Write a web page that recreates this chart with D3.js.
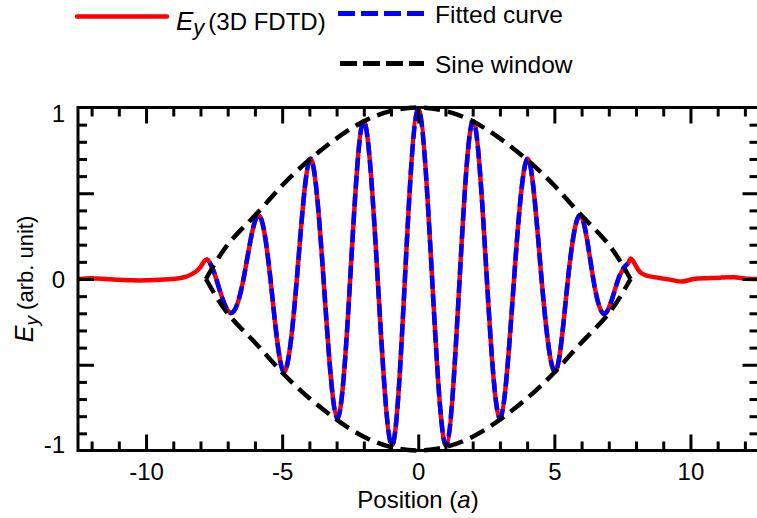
<!DOCTYPE html>
<html>
<head>
<meta charset="utf-8">
<script src="https://cdn.jsdelivr.net/npm/d3@7/dist/d3.min.js"></script>
<style>
  html, body { margin: 0; padding: 0; background: #fff; }
  svg { display: block; font-family: "Liberation Sans", Arial, Helvetica, sans-serif; }
</style>
</head>
<body>
<svg id="chart" width="757" height="518"></svg>
<script>
// ---------------- data ----------------
// Fitted curve (blue dashed): extrema and zero crossings
const fittedX = [-7.66, -7.42, -6.93, -6.42, -5.90, -5.43, -4.95, -4.46, -3.97, -3.48, -2.98, -2.50, -2.01, -1.49, -0.97, -0.49, 0.00, 0.51, 1.02, 1.52, 2.02, 2.52, 3.01, 3.52, 4.03, 4.53, 5.04, 5.50, 5.97, 6.43, 6.88, 7.35, 7.70];
const fittedY = [0.095, 0.0, -0.195, 0.0, 0.37, 0.0, -0.54, 0.0, 0.70, 0.0, -0.81, 0.0, 0.92, 0.0, -0.97, 0.0, 0.99, 0.0, -0.97, 0.0, 0.92, 0.0, -0.81, 0.0, 0.70, 0.0, -0.54, 0.0, 0.37, 0.0, -0.20, 0.0, 0.09];

// 3D FDTD field (red): tails outside the window (inside it follows the fitted curve)
const fdtdLeftX = [-12.5, -12.0, -11.5, -11.0, -10.5, -10.0, -9.5, -9.0, -8.6, -8.3, -8.05, -7.88, -7.76];
const fdtdLeftY = [0.0, 0.004, 0.0, -0.004, -0.008, -0.008, -0.004, 0.0, 0.01, 0.03, 0.06, 0.10, 0.115];
const fdtdRightX = [7.80, 7.95, 8.15, 8.5, 8.9, 9.3, 9.7, 10.1, 10.6, 11.1, 11.6, 12.0, 12.5];
const fdtdRightY = [0.12, 0.09, 0.04, 0.015, 0.005, -0.005, -0.015, 0.0, 0.005, 0.008, 0.01, 0.003, 0.0];

// Sine window envelope (black dashed)
const windowX = [-7.8, -7, -6, -5, -4, -3, -2, -1, 0, 1, 2, 3, 4, 5, 6, 7, 7.8];
const windowY = [0, 0.2, 0.37, 0.545, 0.695, 0.82, 0.92, 0.98, 1, 0.98, 0.92, 0.82, 0.695, 0.545, 0.37, 0.2, 0];

// ticks
const xMajorTicks = [-10, -5, 0, 5, 10];
const xMinorTicks = [-12,-11,-9,-8,-7,-6,-4,-3,-2,-1,1,2,3,4,6,7,8,9,11,12];
const yLabelTicks = [-1, 0, 1];
const yMajorTicks = [-0.5, 0, 0.5];
const yMinorTicks = [-0.9,-0.8,-0.7,-0.6,-0.4,-0.3,-0.2,-0.1,0.1,0.2,0.3,0.4,0.6,0.7,0.8,0.9];

// ---------------- layout ----------------
const svg = d3.select("#chart");
const L = 78, R = 758.5, T = 107.5, B = 450.5;
const x = d3.scaleLinear().domain([-12.5, 12.5]).range([L, R]);
const y = d3.scaleLinear().domain([-1, 1]).range([B, T]);

svg.append("defs").append("clipPath").attr("id", "clip")
  .append("rect").attr("x", L).attr("y", T - 6).attr("width", R - L).attr("height", B - T + 12);

const toPts = (xs, ys) => xs.map((v, i) => [v, ys[i]]);
const line = d3.line().x(d => x(d[0])).y(d => y(d[1])).curve(d3.curveNatural);

const fitted = toPts(fittedX, fittedY);
const fdtd = toPts(fdtdLeftX, fdtdLeftY).concat(fitted, toPts(fdtdRightX, fdtdRightY));
const envUpper = toPts(windowX, windowY);
const envLower = toPts(windowX, windowY.map(v => -v));

const plot = svg.append("g").attr("clip-path", "url(#clip)");
plot.append("path").attr("d", line(fdtd))
  .attr("fill", "none").attr("stroke", "#ff0000").attr("stroke-width", 4.5).attr("stroke-linejoin", "round");
plot.append("path").attr("d", line(fitted))
  .attr("fill", "none").attr("stroke", "#0000ff").attr("stroke-width", 4.5).attr("stroke-dasharray", "13,5");
[envUpper, envLower].forEach(p => {
  plot.append("path").attr("d", line(p))
    .attr("fill", "none").attr("stroke", "#000").attr("stroke-width", 4.5).attr("stroke-dasharray", "16,8");
});

// ---------------- axes / frame ----------------
const fmt = d => String(d);
function styleAxis(g) {
  g.select(".domain").remove();
  g.selectAll(".tick line").attr("stroke", "#000").attr("stroke-width", 3);
  g.selectAll(".tick text").attr("font-size", 24).attr("fill", "#000")
    .attr("font-family", "'Liberation Sans', Arial, Helvetica, sans-serif");
}
// bottom
svg.append("g").attr("transform", `translate(0,${B})`)
  .call(d3.axisBottom(x).tickValues(xMajorTicks).tickSize(-16).tickPadding(12).tickFormat(fmt)).call(styleAxis);
svg.append("g").attr("transform", `translate(0,${B})`)
  .call(d3.axisBottom(x).tickValues(xMinorTicks).tickSize(-9).tickFormat("")).call(styleAxis);
// top
svg.append("g").attr("transform", `translate(0,${T})`)
  .call(d3.axisTop(x).tickValues(xMajorTicks).tickSize(-16).tickFormat("")).call(styleAxis);
svg.append("g").attr("transform", `translate(0,${T})`)
  .call(d3.axisTop(x).tickValues(xMinorTicks).tickSize(-9).tickFormat("")).call(styleAxis);
// left
const yl = svg.append("g").attr("transform", `translate(${L},0)`)
  .call(d3.axisLeft(y).tickValues(yLabelTicks).tickSize(0).tickPadding(13).tickFormat(fmt)).call(styleAxis);
yl.selectAll(".tick text").attr("dy", d => d === 1 ? "0.58em" : d === -1 ? "0.1em" : "0.34em");
svg.append("g").attr("transform", `translate(${L},0)`)
  .call(d3.axisLeft(y).tickValues(yMajorTicks).tickSize(-16).tickFormat("")).call(styleAxis);
svg.append("g").attr("transform", `translate(${L},0)`)
  .call(d3.axisLeft(y).tickValues(yMinorTicks).tickSize(-9).tickFormat("")).call(styleAxis);
// right
svg.append("g").attr("transform", `translate(${R},0)`)
  .call(d3.axisRight(y).tickValues(yMajorTicks).tickSize(-16).tickFormat("")).call(styleAxis);
svg.append("g").attr("transform", `translate(${R},0)`)
  .call(d3.axisRight(y).tickValues(yMinorTicks).tickSize(-9).tickFormat("")).call(styleAxis);

svg.append("rect").attr("x", L).attr("y", T).attr("width", R - L).attr("height", B - T)
  .attr("fill", "none").attr("stroke", "#000").attr("stroke-width", 3);

// axis titles
const xt = svg.append("text").attr("x", 418).attr("y", 508).attr("text-anchor", "middle")
  .attr("font-size", 24).attr("fill", "#000");
xt.append("tspan").text("Position (");
xt.append("tspan").attr("font-style", "italic").text("a");
xt.append("tspan").text(")");

const ytt = svg.append("text").attr("transform", "translate(33,279) rotate(-90)")
  .attr("text-anchor", "middle").attr("fill", "#000");
ytt.append("tspan").attr("font-style", "italic").attr("font-size", 25).text("E");
ytt.append("tspan").attr("font-style", "italic").attr("font-size", 19).attr("dy", 5).text("y");
ytt.append("tspan").attr("font-size", 22).attr("dy", -5).text(" (arb. unit)");

// ---------------- legend ----------------
const lg = svg.append("g");
lg.append("line").attr("x1", 77).attr("x2", 167).attr("y1", 16.5).attr("y2", 16.5)
  .attr("stroke", "#ff0000").attr("stroke-width", 4.5).attr("stroke-linecap", "round");
const lt1 = lg.append("text").attr("x", 176).attr("y", 30).attr("fill", "#000");
lt1.append("tspan").attr("font-style", "italic").attr("font-size", 26).text("E");
lt1.append("tspan").attr("font-style", "italic").attr("font-size", 22).attr("dy", 5).text("y");
lt1.append("tspan").attr("font-size", 24).attr("dy", -5).attr("dx", 4).text("(3D FDTD)");

lg.append("line").attr("x1", 338).attr("x2", 424).attr("y1", 13.5).attr("y2", 13.5)
  .attr("stroke", "#0000ff").attr("stroke-width", 5).attr("stroke-dasharray", "17,6");
lg.append("text").attr("x", 435).attr("y", 22.5).attr("font-size", 24.5).attr("fill", "#000").text("Fitted curve");

lg.append("line").attr("x1", 340).attr("x2", 424).attr("y1", 63.5).attr("y2", 63.5)
  .attr("stroke", "#000").attr("stroke-width", 5).attr("stroke-dasharray", "17,6");
lg.append("text").attr("x", 435).attr("y", 72.5).attr("font-size", 24.5).attr("fill", "#000").text("Sine window");
</script>
</body>
</html>
